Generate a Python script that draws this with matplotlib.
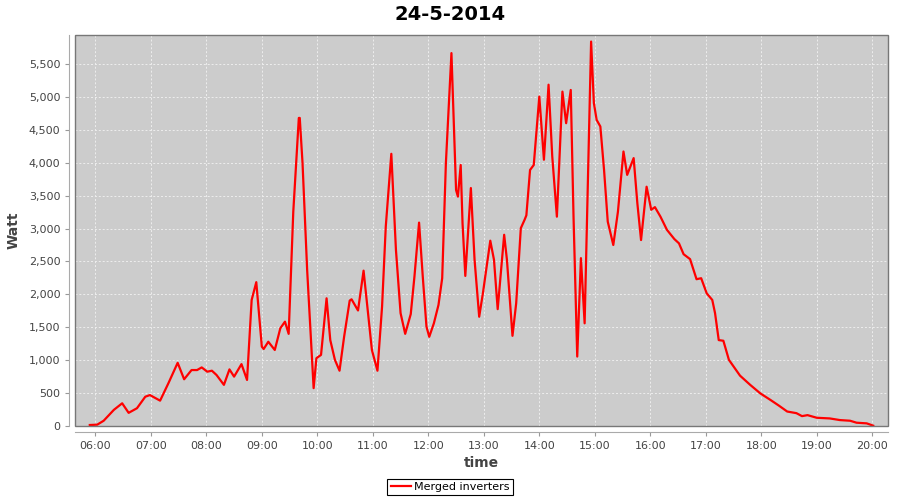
import pandas as pd
import matplotlib
matplotlib.use("Agg")
import matplotlib.pyplot as plt
import matplotlib.dates as mdates
from matplotlib.ticker import FuncFormatter, MultipleLocator
from matplotlib.patches import Rectangle

# readings for 24-5-2014 (time of day, watt)
times = ["05:54", "06:02", "06:09", "06:20", "06:29", "06:36", "06:45", "06:54", "06:59", "07:10",
         "07:19", "07:29", "07:36", "07:44", "07:50", "07:55", "08:01", "08:06", "08:11", "08:19",
         "08:25", "08:30", "08:38", "08:44", "08:49", "08:54", "09:00", "09:02", "09:07", "09:14",
         "09:20", "09:25", "09:29", "09:34", "09:40", "09:41", "09:44", "09:49", "09:56", "09:59",
         "10:04", "10:10", "10:14", "10:19", "10:24", "10:29", "10:35", "10:37", "10:44", "10:50",
         "10:55", "10:59", "11:05", "11:10", "11:14", "11:20", "11:25", "11:30", "11:35", "11:41",
         "11:45", "11:50", "11:54", "11:58", "12:01", "12:06", "12:11", "12:15", "12:19", "12:25",
         "12:26", "12:30", "12:32", "12:35", "12:37", "12:40", "12:46", "12:50", "12:55", "12:59",
         "13:07", "13:11", "13:15", "13:22", "13:25", "13:31", "13:35", "13:40", "13:44", "13:46",
         "13:50", "13:54", "14:00", "14:05", "14:10", "14:14", "14:19", "14:25", "14:29", "14:34",
         "14:37", "14:41", "14:45", "14:49", "14:53", "14:56", "14:59", "15:02", "15:06", "15:10",
         "15:14", "15:20", "15:25", "15:31", "15:35", "15:42", "15:46", "15:50", "15:56", "16:01",
         "16:05", "16:11", "16:18", "16:26", "16:31", "16:36", "16:43", "16:50", "16:55", "17:01",
         "17:07", "17:10", "17:14", "17:19", "17:25", "17:37", "17:48", "17:59", "18:10", "18:19",
         "18:28", "18:38", "18:44", "18:50", "19:00", "19:14", "19:25", "19:36", "19:43", "19:54",
         "20:01"]
watt = [15, 20, 80, 245, 345, 200, 270, 445, 470, 385,
        650, 960, 710, 850, 850, 890, 825, 840, 775, 625,
        860, 750, 940, 700, 1915, 2185, 1205, 1170, 1280, 1155,
        1485, 1585, 1400, 3255, 4680, 4680, 3995, 2370, 575, 1030,
        1080, 1940, 1305, 1005, 840, 1360, 1905, 1925, 1755, 2360,
        1690, 1155, 840, 1815, 3030, 4135, 2675, 1715, 1400, 1700,
        2270, 3090, 2270, 1510, 1355, 1560, 1840, 2245, 3995, 5665,
        5250, 3585, 3485, 3965, 3080, 2280, 3615, 2525, 1660, 2015,
        2815, 2525, 1775, 2905, 2525, 1370, 1865, 3005, 3130, 3200,
        3890, 3965, 5005, 4045, 5185, 4095, 3180, 5080, 4600, 5105,
        3180, 1055, 2550, 1560, 3995, 5840, 4905, 4650, 4550, 3890,
        3105, 2750, 3255, 4170, 3815, 4070, 3385, 2825, 3635, 3285,
        3325, 3180, 2980, 2840, 2775, 2610, 2535, 2230, 2245, 2015,
        1915, 1715, 1305, 1295, 1005, 765, 625, 495, 395, 310,
        220, 195, 150, 165, 125, 115, 90, 80, 50, 40,
        5]

day = "2014-05-24 "
x = pd.to_datetime([day + t for t in times])

fig = plt.figure(figsize=(9, 5), dpi=100)
ax = fig.add_axes([75/900, 74/500, 813/900, 391/500])
ax.set_facecolor("#cccccc")

ax.plot(x, watt, color="red", lw=1.6, label="Merged inverters")

ax.set_xlim(pd.Timestamp(day + "05:38"), pd.Timestamp(day + "20:17"))
ax.set_ylim(0, 5940)
ax.xaxis.set_major_locator(mdates.HourLocator())
ax.xaxis.set_major_formatter(mdates.DateFormatter("%H:%M"))
ax.yaxis.set_major_locator(MultipleLocator(500))
ax.yaxis.set_major_formatter(FuncFormatter(lambda v, p: f"{int(v):,}"))

ax.grid(True, color="#eeeeee", ls=(0, (2, 2)), lw=0.7)
ax.tick_params(labelsize=8, labelcolor="#444444", color="#999999", length=3)

for s in ["top", "right"]:
    ax.spines[s].set_visible(False)
for s in ["left", "bottom"]:
    ax.spines[s].set_position(("outward", 4))
    ax.spines[s].set_color("#aaaaaa")
ax.add_patch(Rectangle((0, 0), 1, 1, transform=ax.transAxes, fill=False,
                       ec="#777777", lw=1, clip_on=False, zorder=5))

fig.text(0.5, 1 - 14/500, "24-5-2014", fontsize=14, fontweight="bold",
         ha="center", va="center")
ax.set_xlabel("time", fontsize=10, fontweight="bold", color="#444444", labelpad=4)
ax.set_ylabel("Watt", fontsize=10, fontweight="bold", color="#444444", labelpad=6)

leg = fig.legend(loc="center", bbox_to_anchor=(450/900, 1 - 487/500), fontsize=8,
                 frameon=True, fancybox=False, edgecolor="black", framealpha=1,
                 handlelength=1.8, borderpad=0.3, handletextpad=0.3)
leg.get_frame().set_linewidth(0.8)

fig.savefig("out.png", dpi=100)
